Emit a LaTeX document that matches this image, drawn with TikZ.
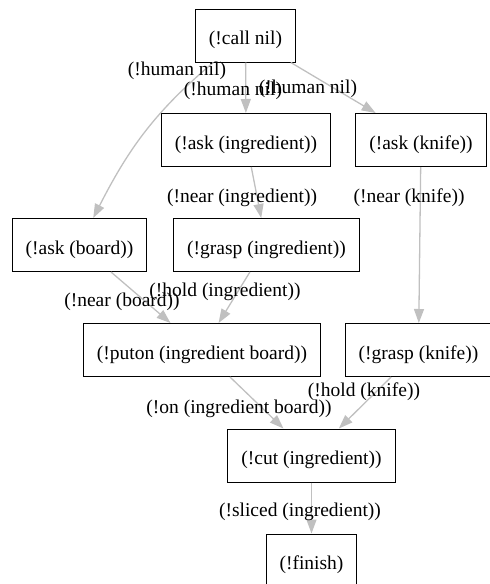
\documentclass[tikz,border=0pt]{standalone}
\usepackage{fontspec}
\setmainfont{Liberation Serif}
\usetikzlibrary{arrows.meta}
\definecolor{edgegray}{RGB}{192,192,192}

\begin{document}
\begin{tikzpicture}[x=1pt,y=1pt,
		    font=\fontsize{19.5}{23}\selectfont,
		    box/.style={inner xsep=13.5pt,inner ysep=0pt,minimum height=53pt,text height=18pt,text depth=0pt,draw,line width=1pt},
		    edge/.style={->,>={Triangle[length=14pt,width=10pt]},draw=edgegray,line width=1.3pt},
		    lbl/.style={inner sep=0pt},
		]
	    \useasboundingbox (0,0) rectangle (490,-584);

	    \node[box] (call) at (245.5,-35.5) {(!call nil)};
	    \node[box] (askingr) at (246,-140) {(!ask (ingredient))};
	    \node[box] (askknife) at (421,-140) {(!ask (knife))};
	    \node[box] (askboard) at (79.5,-245) {(!ask (board))};
	    \node[box] (graspingr) at (266.5,-245) {(!grasp (ingredient))};
	    \node[box] (puton) at (202,-350) {(!puton (ingredient board))};
	    \node[box] (graspknife) at (418.5,-350) {(!grasp (knife))};
	    \node[box] (cut) at (311.5,-455.5) {(!cut (ingredient))};
	    \node[box] (finish) at (311.5,-560.5) {(!finish)};

	    %start
	    \draw [edge] (call) to[out=-140,in=63] (askboard);
	    \draw [edge] (call) -- (askingr);
	    \draw [edge] (call) -- (askknife);

	    %middle
	    \draw [edge] (askingr) -- (graspingr);
	    \draw [edge] (askknife) -- (graspknife);
	    \draw [edge] (askboard) -- (puton);
	    \draw [edge] (graspingr) -- (puton);
	    \draw [edge] (puton) -- (cut);
	    \draw [edge] (graspknife) -- (cut);

	    %end
	    \draw [edge] (cut) -- (finish);

	    %labels
	    \node[lbl] (humboard) at (177,-70.5) {(!human nil)};
	    \node[lbl] (humingr) at (233,-91) {(!human nil)};
	    \node[lbl] (humknife) at (308,-88.5) {(!human nil)};
	    \node[lbl] (nearingr) at (242,-197.5) {(!near (ingredient))};
	    \node[lbl] (nearknife) at (409,-197.5) {(!near (knife))};
	    \node[lbl] (nearboard) at (122,-301.5) {(!near (board))};
	    \node[lbl] (holdingr) at (225,-291.5) {(!hold (ingredient))};
	    \node[lbl] (onboard) at (239,-408.5) {(!on (ingredient board))};
	    \node[lbl] (holdknife) at (364,-391.5) {(!hold (knife))};
	    \node[lbl] (sliced) at (300,-511.5) {(!sliced (ingredient))};
	\end{tikzpicture}
\end{document}
